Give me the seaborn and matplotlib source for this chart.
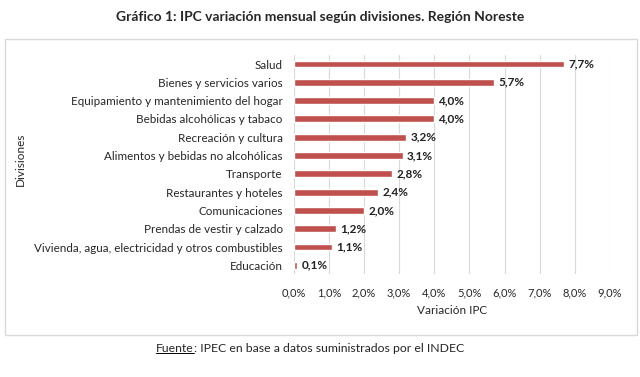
import matplotlib
matplotlib.use('Agg')
import matplotlib.pyplot as plt
import seaborn as sns
import pandas as pd
from matplotlib.patches import Rectangle

# Data
divisiones = [
    'Salud',
    'Bienes y servicios varios',
    'Equipamiento y mantenimiento del hogar',
    'Bebidas alcohólicas y tabaco',
    'Recreación y cultura',
    'Alimentos y bebidas no alcohólicas',
    'Transporte',
    'Restaurantes y hoteles',
    'Comunicaciones',
    'Prendas de vestir y calzado',
    'Vivienda, agua, electricidad y otros combustibles',
    'Educación',
]
variacion = [7.7, 5.7, 4.0, 4.0, 3.2, 3.1, 2.8, 2.4, 2.0, 1.2, 1.1, 0.1]
xticks = [0, 1, 2, 3, 4, 5, 6, 7, 8, 9]

df = pd.DataFrame({'Division': divisiones, 'Variacion': variacion})

sns.set_style('white')
plt.rcParams['font.family'] = ['Lato', 'DejaVu Sans']

fig = plt.figure(figsize=(6.4, 3.77), dpi=100)
ax = fig.add_axes([0.459, 0.272, 0.494, 0.5825])

sns.barplot(data=df, x='Variacion', y='Division', color='#C0504D',
            width=0.38, saturation=1, ax=ax)

# value labels
for i, v in enumerate(variacion):
    ax.text(v + 0.12, i, f'{v:.1f}%'.replace('.', ','), va='center', ha='left',
            fontsize=8.5, fontweight='bold', color='#222222')

ax.set_xlim(0, 9)
ax.set_xticks(xticks)
ax.set_xticklabels([f'{t:.1f}%'.replace('.', ',') for t in xticks], fontsize=8)
ax.tick_params(axis='x', length=0, pad=9)
ax.tick_params(axis='y', labelsize=8.4, length=2, color='#A0A0A0', pad=6)
ax.grid(axis='x', color='#D9D9D9', linewidth=0.8)
ax.set_axisbelow(True)
for s in ax.spines.values():
    s.set_visible(False)

ax.set_xlabel('Variación IPC', fontsize=8.5, labelpad=5)
ax.set_ylabel('Divisiones', fontsize=8.5)
ax.yaxis.set_label_coords(26 / 640, 0.578, transform=fig.transFigure)

# outer chart frame
fig.patches.append(Rectangle((0.008, 0.112), 0.987, 0.785, transform=fig.transFigure,
                             fill=False, edgecolor='#D9D9D9', linewidth=1))

fig.text(0.5, 0.955, 'Gráfico 1: IPC variación mensual según divisiones. Región Noreste',
         ha='center', va='center', fontsize=10, fontweight='bold')

# source line with underlined "Fuente"
src1 = fig.text(0.244, 0.075, 'Fuente', ha='left', va='center', fontsize=8.8)
fig.canvas.draw()
bb = src1.get_window_extent().transformed(fig.transFigure.inverted())
fig.text(bb.x1, 0.075, ': IPEC en base a datos suministrados por el INDEC',
         ha='left', va='center', fontsize=8.8)
fig.lines.append(plt.Line2D([bb.x0, bb.x1], [bb.y0 + 0.002, bb.y0 + 0.002],
                            transform=fig.transFigure, color='black', linewidth=0.7))

fig.savefig('out.png', dpi=100)
